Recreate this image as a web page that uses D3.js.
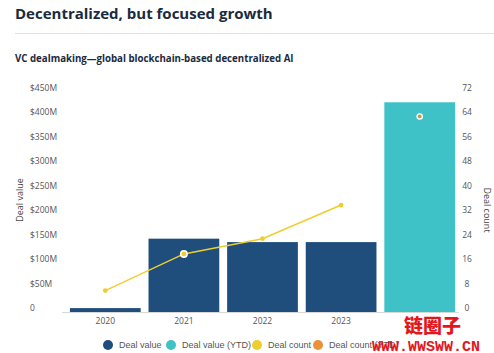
<!DOCTYPE html>
<html>
<head>
<meta charset="utf-8">
<script src="https://cdn.jsdelivr.net/npm/d3@7"></script>
<style>
  body { margin: 0; background: #fff; }
  text { font-family: "Open Sans", "Liberation Sans", sans-serif; }
</style>
</head>
<body>
<div id="chart"></div>
<script>
// data
const years = ['2020', '2021', '2022', '2023', '2024'];
const dealValue = [8, 150, 143, 143, null];      // $M
const dealValueYTD = [null, null, null, null, 429];
const dealCount = [7, 19, 24, 35, null];
const dealCountYTD = [null, null, null, null, 64];
const valueTicks = [0, 50, 100, 150, 200, 250, 300, 350, 400, 450];
const countTicks = [0, 8, 16, 24, 32, 40, 48, 56, 64, 72];
const legendItems = ['Deal value', 'Deal value (YTD)', 'Deal count', 'Deal count (YTD)'];

const W = 494, H = 353;
const colors = {
    value: '#1f4e7d',
    valueYTD: '#3fc1c8',
    count: '#f0cd2e',
    countYTD: '#e8923a'
};

const svg = d3.select('#chart')
    .append('svg')
    .attr('width', W)
    .attr('height', H);

// title block
svg.append('text')
    .attr('x', 15)
    .attr('y', 19)
    .style('font-size', '15px')
    .style('font-weight', 700)
    .attr('fill', '#1b2a3d')
    .text('Decentralized, but focused growth');

svg.append('line')
    .attr('x1', 15).attr('x2', W)
    .attr('y1', 33.5).attr('y2', 33.5)
    .attr('stroke', '#e2e2e2');

svg.append('text')
    .attr('x', 15)
    .attr('y', 62)
    .style('font-size', '9.7px')
    .style('font-weight', 700)
    .attr('fill', '#1b2a3d')
    .text('VC dealmaking\u2014global blockchain-based decentralized AI');

// scales
const x = d3.scaleBand()
    .domain(years)
    .range([66, 459])
    .paddingInner(0.1)
    .paddingOuter(0.05);

const yValue = d3.scaleLinear().domain([0, 450]).range([312, 92]);
const yCount = d3.scaleLinear().domain([0, 72]).range([312, 92]);

// left axis labels
svg.append('g')
    .selectAll('text')
    .data(valueTicks)
    .join('text')
    .attr('x', 30)
    .attr('y', d => yValue(d) - 1)
    .style('font-size', '8.5px')
    .attr('fill', '#555')
    .text(d => d === 0 ? '0' : `$${d}M`);

// right axis labels
svg.append('g')
    .selectAll('text')
    .data(countTicks)
    .join('text')
    .attr('x', 467)
    .attr('y', d => yCount(d) - 1)
    .attr('text-anchor', 'middle')
    .style('font-size', '8.5px')
    .attr('fill', '#555')
    .text(d => d);

svg.append('text')
    .attr('transform', 'translate(23,200) rotate(-90)')
    .attr('text-anchor', 'middle')
    .style('font-size', '9px')
    .attr('fill', '#444')
    .text('Deal value');

svg.append('text')
    .attr('transform', 'translate(484,210) rotate(90)')
    .attr('text-anchor', 'middle')
    .style('font-size', '9px')
    .attr('fill', '#444')
    .text('Deal count');

// bars
const bars = years.map((yr, i) => ({
    year: yr,
    v: dealValue[i] != null ? dealValue[i] : dealValueYTD[i],
    ytd: dealValue[i] == null
}));

svg.append('g')
    .selectAll('rect')
    .data(bars)
    .join('rect')
    .attr('x', d => x(d.year))
    .attr('width', x.bandwidth())
    .attr('y', d => yValue(d.v))
    .attr('height', d => yValue(0) - yValue(d.v))
    .attr('fill', d => d.ytd ? colors.valueYTD : colors.value);

// baseline
svg.append('line')
    .attr('x1', 62).attr('x2', 459)
    .attr('y1', 312.5).attr('y2', 312.5)
    .attr('stroke', '#d8d8d8');

// x labels
svg.append('g')
    .selectAll('text')
    .data(years.slice(0, 4))
    .join('text')
    .attr('x', d => x(d) + x.bandwidth() / 2)
    .attr('y', 324)
    .attr('text-anchor', 'middle')
    .style('font-size', '8.5px')
    .attr('fill', '#555')
    .text(d => d);

// deal count line
const pts = years.map((yr, i) => ({ year: yr, c: dealCount[i] })).filter(d => d.c != null);
const line = d3.line()
    .x(d => x(d.year) + x.bandwidth() / 2)
    .y(d => yCount(d.c));

svg.append('path')
    .datum(pts)
    .attr('d', line)
    .attr('fill', 'none')
    .attr('stroke', colors.count)
    .attr('stroke-width', 1.5);

svg.append('g')
    .selectAll('circle')
    .data(pts)
    .join('circle')
    .attr('cx', d => x(d.year) + x.bandwidth() / 2)
    .attr('cy', d => yCount(d.c))
    .attr('r', d => d.year === '2021' ? 3.2 : 2.4)
    .attr('fill', colors.count)
    .attr('stroke', d => d.year === '2021' ? '#fff' : 'none')
    .attr('stroke-width', 1.6);

// YTD count point
const ytdPts = years.map((yr, i) => ({ year: yr, c: dealCountYTD[i] })).filter(d => d.c != null);
svg.append('g')
    .selectAll('circle')
    .data(ytdPts)
    .join('circle')
    .attr('cx', d => x(d.year) + x.bandwidth() / 2)
    .attr('cy', d => yCount(d.c))
    .attr('r', 2.6)
    .attr('fill', '#c9953a')
    .attr('stroke', '#fff')
    .attr('stroke-width', 1.4);

// legend
const legendX = [108, 171, 257, 318];
const legendColors = [colors.value, colors.valueYTD, colors.count, colors.countYTD];
const legend = svg.append('g')
    .selectAll('g')
    .data(legendItems)
    .join('g')
    .attr('transform', (d, i) => `translate(${legendX[i]},345)`);

legend.append('circle')
    .attr('r', 5)
    .attr('fill', (d, i) => legendColors[i]);

legend.append('text')
    .attr('x', 11)
    .attr('y', 3.3)
    .style('font-family', '"Liberation Sans", Arial, sans-serif')
    .style('font-size', '9px')
    .attr('fill', '#555')
    .text(d => d);

// watermark
svg.append('text')
    .attr('x', 404)
    .attr('y', 333)
    .style('font-family', '"Noto Sans CJK SC"')
    .style('font-size', '19px')
    .style('font-weight', 900)
    .attr('fill', '#e3161c')
    .text('链圈子');

svg.append('text')
    .attr('x', 372)
    .attr('y', 351)
    .style('font-family', '"Liberation Mono", monospace')
    .style('font-size', '15px')
    .style('font-weight', 700)
    .attr('fill', '#e3161c')
    .text('WWW.WWSWW.CN');
</script>
</body>
</html>
